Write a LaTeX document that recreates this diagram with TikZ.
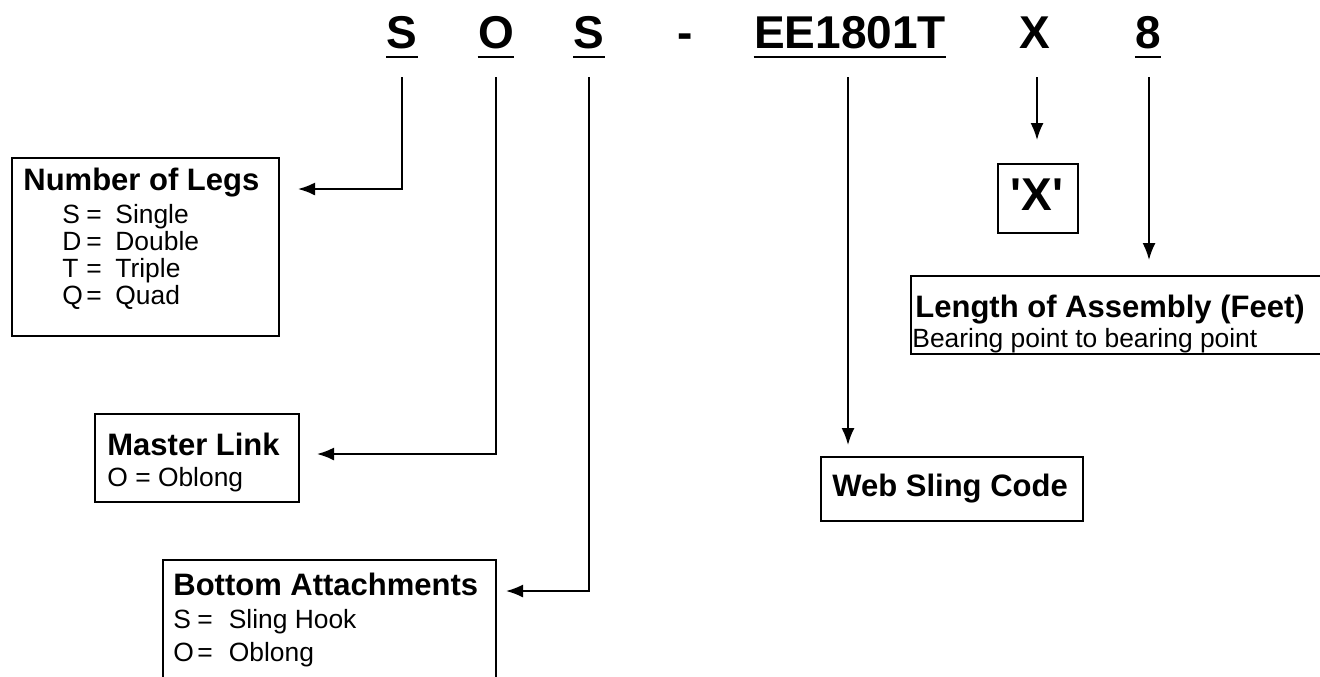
\documentclass[tikz,border=0pt]{standalone}
\usepackage{fontspec}
\setmainfont{Liberation Sans}
\usetikzlibrary{arrows.meta}

\tikzset{
  code/.style={inner sep=0pt, anchor=base, font=\fontsize{23}{27}\selectfont\bfseries},
  head/.style={inner sep=0pt, anchor=base west, font=\fontsize{15.5}{18}\selectfont\bfseries},
  item/.style={inner sep=0pt, anchor=base west, font=\fontsize{13.2}{16}\selectfont},
  box/.style={draw, line width=0.9pt, inner sep=0pt, anchor=north west},
  uline/.style={line width=1.3pt},
  lead/.style={line width=0.9pt, -{Latex[length=8.5pt,width=6.5pt]}}
}
\newcommand{\legitem}[2]{\makebox[12pt][l]{#1}=\hspace{6.8pt}#2}
\newcommand{\attitem}[2]{\makebox[12pt][l]{#1}=\hspace{8pt}#2}

\begin{document}
\begin{tikzpicture}[x=0.5pt,y=0.5pt,yscale=-1,xscale=1]
\clip (0,0) rectangle (1320,676);

% Code Nodes
\node[code] (cS) at (402,48) {S};
\node[code] (cO) at (496,48) {O};
\node[code] (cS2) at (589,48) {S};
\node[code] (cDash) at (685,48) {-};
\node[code] (cEE) at (850,48) {EE1801T};
\node[code] (cX) at (1035,48) {X};
\node[code] (c8) at (1148,48) {8};
%Underlines
\foreach \n in {cS,cO,cS2,cEE,c8}
  \draw[uline] ([yshift=4.5pt]\n.base west) -- ([yshift=4.5pt]\n.base east);

% Boxes
\node[box, minimum width=133.5pt, minimum height=89pt] (legs) at (11,157) {};
\node[box, minimum width=102pt, minimum height=44pt] (master) at (94,413) {};
\node[box, minimum width=166.5pt, minimum height=70pt] (bottom) at (162,559) {};
\node[box, minimum width=40pt, minimum height=34.5pt] (xbox) at (997,163) {};
\node[box, minimum width=205pt, minimum height=39pt] (length) at (910,275) {};
\node[box, minimum width=131pt, minimum height=32pt] (web) at (820,456) {};

% Text Node
\node[head] (legsHead) at (23,190) {Number of Legs};
\node[item] (legsS) at (62,223) {\legitem{S}{Single}};
\node[item] (legsD) at (62,250) {\legitem{D}{Double}};
\node[item] (legsT) at (62,277) {\legitem{T}{Triple}};
\node[item] (legsQ) at (62,304) {\legitem{Q}{Quad}};
% Text Node
\node[head] (masterHead) at (107,455) {Master Link};
\node[item] (masterO) at (107,486) {O = Oblong};
% Text Node
\node[head] (bottomHead) at (173,595) {Bottom Attachments};
\node[item] (bottomS) at (173,628) {\attitem{S}{Sling Hook}};
\node[item] (bottomO) at (173,661) {\attitem{O}{Oblong}};
% Text Node
\node[code] (xmark) at (1037,210) {\textquotesingle X\textquotesingle};
% Text Node
\node[head] (lengthHead) at (915,317) {Length of Assembly (Feet)};
\node[item] (lengthNote) at (912,347) {Bearing point to bearing point};
% Text Node
\node[head] (webHead) at (832,496) {Web Sling Code};

% Arrow tips
\coordinate (tLegs) at (298,189);
\coordinate (tMaster) at (317,454);
\coordinate (tBottom) at (506,591);
\coordinate (tWeb) at (848,445);
\coordinate (tX) at (1037,140);
\coordinate (tLength) at (1149,260);

%Straight Lines
\draw[lead] ([yshift=14.5pt]cS.base) |- (tLegs);
\draw[lead] ([yshift=14.5pt]cO.base) |- (tMaster);
\draw[lead] ([yshift=14.5pt]cS2.base) |- (tBottom);
\draw[lead] ([yshift=14.5pt]cEE.base -| tWeb) -- (tWeb);
\draw[lead] ([yshift=14.5pt]cX.base -| tX) -- (tX);
\draw[lead] ([yshift=14.5pt]c8.base -| tLength) -- (tLength);

\end{tikzpicture}
\end{document}
